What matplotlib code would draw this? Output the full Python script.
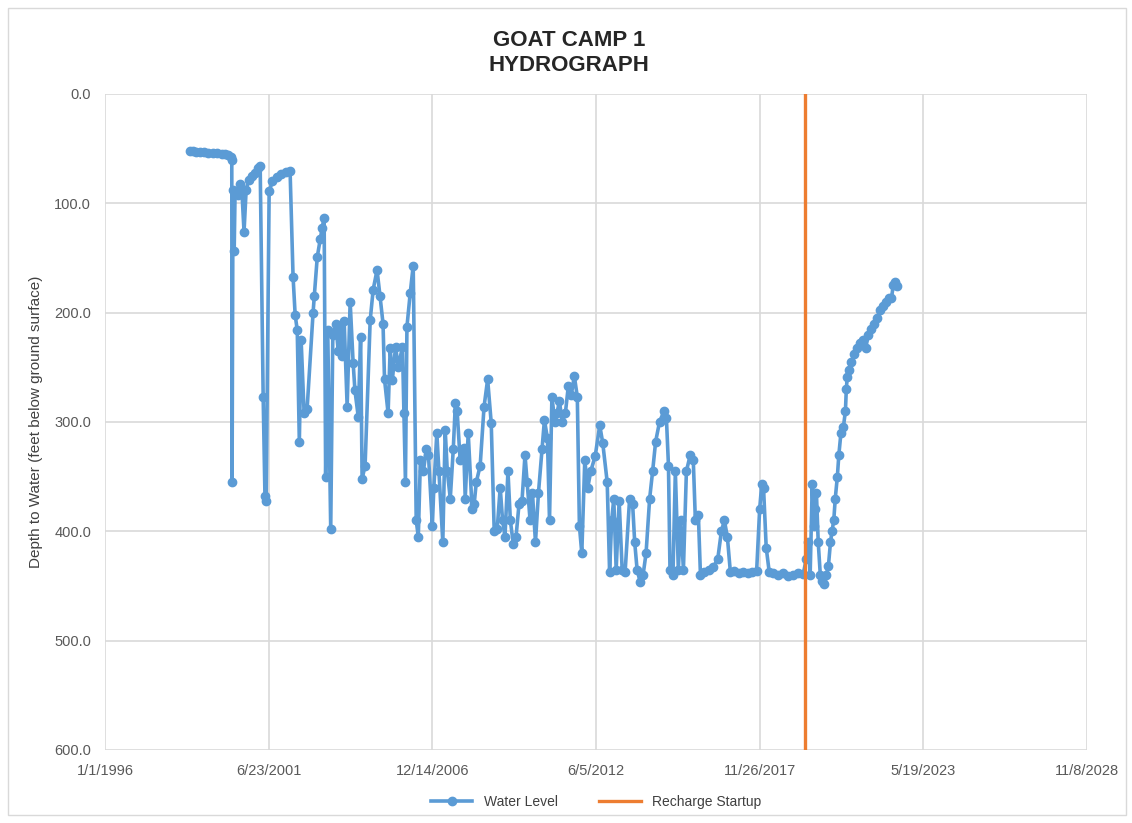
import pandas as pd
import matplotlib.pyplot as plt
from matplotlib.patches import Rectangle

plt.rcParams['font.family'] = ['Liberation Sans', 'DejaVu Sans']

# water level readings (decimal year, depth to water in feet)
years = [
    1998.84, 1998.95, 1999.05, 1999.18, 1999.30, 1999.45, 1999.60, 1999.75, 1999.90, 2000.02,
    2000.12, 2000.20, 2000.24, 2000.25, 2000.28, 2000.32, 2000.35, 2000.45, 2000.52, 2000.58,
    2000.65, 2000.72, 2000.80, 2000.90, 2001.02, 2001.12, 2001.19, 2001.29, 2001.35, 2001.39,
    2001.49, 2001.60, 2001.75, 2001.90, 2002.05, 2002.19, 2002.29, 2002.36, 2002.43, 2002.50,
    2002.56, 2002.66, 2002.76, 2002.96, 2003.00, 2003.10, 2003.20, 2003.26, 2003.33, 2003.38,
    2003.45, 2003.55, 2003.62, 2003.72, 2003.80, 2003.86, 2003.93, 2004.00, 2004.10, 2004.20,
    2004.30, 2004.36, 2004.47, 2004.55, 2004.60, 2004.70, 2004.87, 2004.97, 2005.10, 2005.20,
    2005.30, 2005.35, 2005.47, 2005.54, 2005.61, 2005.72, 2005.81, 2005.95, 2006.00, 2006.05,
    2006.10, 2006.21, 2006.31, 2006.41, 2006.48, 2006.55, 2006.65, 2006.75, 2006.82, 2006.95,
    2007.00, 2007.10, 2007.17, 2007.30, 2007.38, 2007.45, 2007.55, 2007.65, 2007.72, 2007.78,
    2007.88, 2008.00, 2008.05, 2008.15, 2008.28, 2008.35, 2008.42, 2008.55, 2008.68, 2008.80,
    2008.92, 2009.02, 2009.12, 2009.22, 2009.30, 2009.38, 2009.48, 2009.56, 2009.66, 2009.75,
    2009.85, 2009.95, 2010.05, 2010.12, 2010.22, 2010.30, 2010.40, 2010.50, 2010.62, 2010.70,
    2010.80, 2010.87, 2010.95, 2011.05, 2011.12, 2011.20, 2011.30, 2011.40, 2011.50, 2011.60,
    2011.70, 2011.80, 2011.87, 2011.95, 2012.05, 2012.15, 2012.25, 2012.40, 2012.55, 2012.65,
    2012.80, 2012.88, 2012.95, 2013.02, 2013.10, 2013.20, 2013.30, 2013.40, 2013.55, 2013.65,
    2013.72, 2013.80, 2013.90, 2014.00, 2014.10, 2014.22, 2014.32, 2014.42, 2014.55, 2014.70,
    2014.78, 2014.85, 2014.90, 2015.00, 2015.08, 2015.18, 2015.26, 2015.35, 2015.45, 2015.58,
    2015.68, 2015.75, 2015.85, 2015.92, 2016.05, 2016.20, 2016.35, 2016.50, 2016.62, 2016.72,
    2016.82, 2016.92, 2017.05, 2017.20, 2017.35, 2017.50, 2017.65, 2017.80, 2017.90, 2017.97,
    2018.03, 2018.12, 2018.22, 2018.36, 2018.52, 2018.69, 2018.86, 2019.03, 2019.19, 2019.36,
    2019.46, 2019.53, 2019.59, 2019.66, 2019.71, 2019.76, 2019.80, 2019.86, 2019.93, 2020.00,
    2020.06, 2020.13, 2020.20, 2020.27, 2020.32, 2020.38, 2020.43, 2020.50, 2020.55, 2020.62,
    2020.70, 2020.77, 2020.80, 2020.83, 2020.90, 2020.97, 2021.07, 2021.17, 2021.27, 2021.37,
    2021.45, 2021.54, 2021.64, 2021.74, 2021.84, 2021.94, 2022.04, 2022.14, 2022.24, 2022.31,
    2022.37, 2022.44, 2022.51,
]
depth_ft = [
    52, 52, 53, 53, 53, 54, 54, 54, 55, 55,
    56, 58, 60, 355, 88, 144, 90, 92, 82, 90,
    126, 88, 79, 75, 72, 68, 66, 277, 368, 372,
    89, 80, 76, 73, 71, 70, 167, 202, 216, 318,
    225, 292, 288, 200, 185, 149, 133, 123, 113, 350,
    216, 398, 220, 210, 235, 212, 240, 208, 286, 190,
    246, 271, 295, 222, 352, 340, 207, 179, 161, 185,
    210, 261, 292, 232, 262, 231, 250, 231, 292, 355,
    213, 182, 157, 390, 405, 335, 345, 325, 330, 395,
    360, 310, 345, 410, 307, 345, 370, 325, 283, 290,
    335, 324, 370, 310, 380, 375, 355, 340, 286, 261,
    301, 400, 398, 360, 390, 405, 345, 390, 412, 405,
    375, 372, 330, 355, 390, 365, 410, 365, 325, 298,
    315, 390, 277, 300, 292, 281, 300, 292, 267, 275,
    258, 277, 395, 420, 335, 360, 345, 331, 303, 319,
    355, 437, 390, 370, 435, 372, 435, 437, 370, 375,
    410, 435, 446, 440, 420, 370, 345, 318, 300, 290,
    296, 340, 435, 440, 345, 435, 390, 435, 345, 330,
    335, 390, 385, 440, 437, 435, 433, 425, 400, 390,
    405, 437, 436, 438, 437, 438, 437, 436, 380, 357,
    360, 415, 437, 438, 440, 438, 441, 440, 438, 439,
    425, 410, 440, 357, 395, 380, 365, 410, 440, 445,
    448, 440, 432, 410, 400, 390, 370, 350, 330, 310,
    305, 290, 270, 259, 252, 245, 238, 232, 228, 225,
    232, 220, 215, 210, 205, 198, 194, 190, 187, 187,
    175, 172, 176,
]

recharge_date = '2019-06-05'
tick_start = '1996-01-01'
tick_step_days = 2000
n_ticks = 7

start = pd.Timestamp(tick_start)
dates = [start + pd.Timedelta(days=(y - 1996) * 365.25) for y in years]
ticks = [start + pd.Timedelta(days=tick_step_days * i) for i in range(n_ticks)]

fig = plt.figure(figsize=(11.32, 8.23), dpi=100)
fig.patches.append(Rectangle((0.007, 0.01), 0.988, 0.98, transform=fig.transFigure,
                             fill=False, edgecolor='#d9d9d9', linewidth=1))
ax = fig.add_axes([0.0928, 0.0887, 0.8675, 0.7971])

ax.plot(dates, depth_ft, color='#5b9bd5', linewidth=2.6, marker='o', markersize=6,
        label='Water Level', zorder=3)
rd = pd.Timestamp(recharge_date)
ax.plot([rd, rd], [0, 600], color='#ed7d31', linewidth=2.4, label='Recharge Startup', zorder=4)

ax.set_ylim(600, 0)
ax.set_yticks(range(0, 601, 100))
ax.yaxis.set_major_formatter(plt.FuncFormatter(lambda v, p: f'{v:.1f}'))
ax.set_xlim(ticks[0], ticks[-1])
ax.set_xticks(ticks)
ax.set_xticklabels([f'{t.month}/{t.day}/{t.year}' for t in ticks])

ax.grid(True, color='#d9d9d9', linewidth=1.2)
ax.set_axisbelow(True)
for s in ax.spines.values():
    s.set_visible(False)
ax.tick_params(length=0, labelsize=10.5, labelcolor='#595959', pad=10)
ax.set_ylabel('Depth to Water (feet below ground surface)', fontsize=11, color='#404040', labelpad=8)

fig.text(0.503, 0.936, 'GOAT CAMP 1\nHYDROGRAPH', ha='center', va='center', fontsize=16,
         fontweight='bold', color='#262626', linespacing=1.25)

ax.legend(loc='upper center', bbox_to_anchor=(0.5, -0.05), ncol=2, frameon=False,
          fontsize=10, labelcolor='#404040', handlelength=3, columnspacing=3)

fig.savefig('out.png', dpi=100)
